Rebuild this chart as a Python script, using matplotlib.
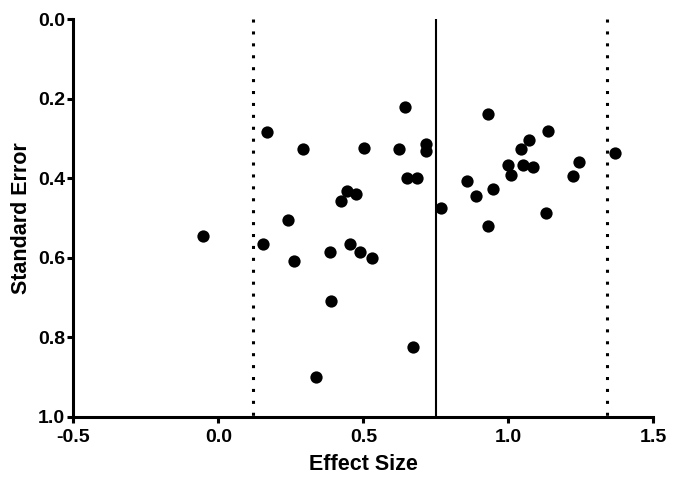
import matplotlib
matplotlib.use("Agg")
import matplotlib.pyplot as plt
from matplotlib.ticker import FormatStrFormatter

plt.rcParams['font.family'] = ['Liberation Sans', 'DejaVu Sans']

effect_size = [0.644, 0.169, 0.293, 0.503, 0.624, 0.714, 0.716, 0.651, 0.686,
               0.444, 0.474, 0.421, 0.240, -0.054,
               0.931, 1.138, 1.072, 1.044, 0.999, 1.051, 1.083, 1.010, 1.243,
               1.223, 1.369, 0.858, 0.946, 0.888, 0.767, 1.129, 0.929,
               0.153, 0.259, 0.386, 0.452, 0.489, 0.529, 0.388, 0.672, 0.336]
std_error = [0.222, 0.283, 0.327, 0.324, 0.327, 0.313, 0.332, 0.399, 0.399,
             0.432, 0.441, 0.457, 0.506, 0.545,
             0.238, 0.282, 0.304, 0.327, 0.368, 0.367, 0.371, 0.391, 0.360,
             0.395, 0.338, 0.407, 0.428, 0.445, 0.474, 0.488, 0.520,
             0.566, 0.608, 0.587, 0.565, 0.587, 0.602, 0.709, 0.824, 0.900]
pooled_effect = 0.75
lower_limit = 0.12
upper_limit = 1.34
x_ticks = [-0.5, 0.0, 0.5, 1.0, 1.5]
y_ticks = [0.0, 0.2, 0.4, 0.6, 0.8, 1.0]

fig = plt.figure(figsize=(6.8, 4.88), dpi=100)
ax = fig.add_axes([0.108, 0.146, 0.853, 0.815])

ax.scatter(effect_size, std_error, s=78, color='black', zorder=3, linewidths=0)
ax.vlines(pooled_effect, 0, 1, color='black', linewidth=1.5, zorder=2)
for v in (lower_limit, upper_limit):
    ax.vlines(v, 0, 1, color='black', linewidth=2.2,
              linestyles=[(0, (1, 2.9))], zorder=2)

ax.set_xlim(-0.5, 1.5)
ax.set_ylim(1.0, 0.0)
ax.set_xticks(x_ticks)
ax.set_yticks(y_ticks)
ax.xaxis.set_major_formatter(FormatStrFormatter('%.1f'))
ax.yaxis.set_major_formatter(FormatStrFormatter('%.1f'))

for s in ('top', 'right'):
    ax.spines[s].set_visible(False)
for s in ('left', 'bottom'):
    ax.spines[s].set_linewidth(2.2)
ax.tick_params(axis='both', width=2.2, length=4.5, direction='out',
               labelsize=14)
ax.tick_params(axis='x', pad=4)
ax.tick_params(axis='y', pad=1.5)
for lab in ax.get_xticklabels() + ax.get_yticklabels():
    lab.set_fontweight('bold')

ax.set_xlabel('Effect Size', fontsize=15.5, fontweight='bold', labelpad=6)
ax.set_ylabel('Standard Error', fontsize=15.5, fontweight='bold', labelpad=4)

fig.savefig('out.png', dpi=100)
